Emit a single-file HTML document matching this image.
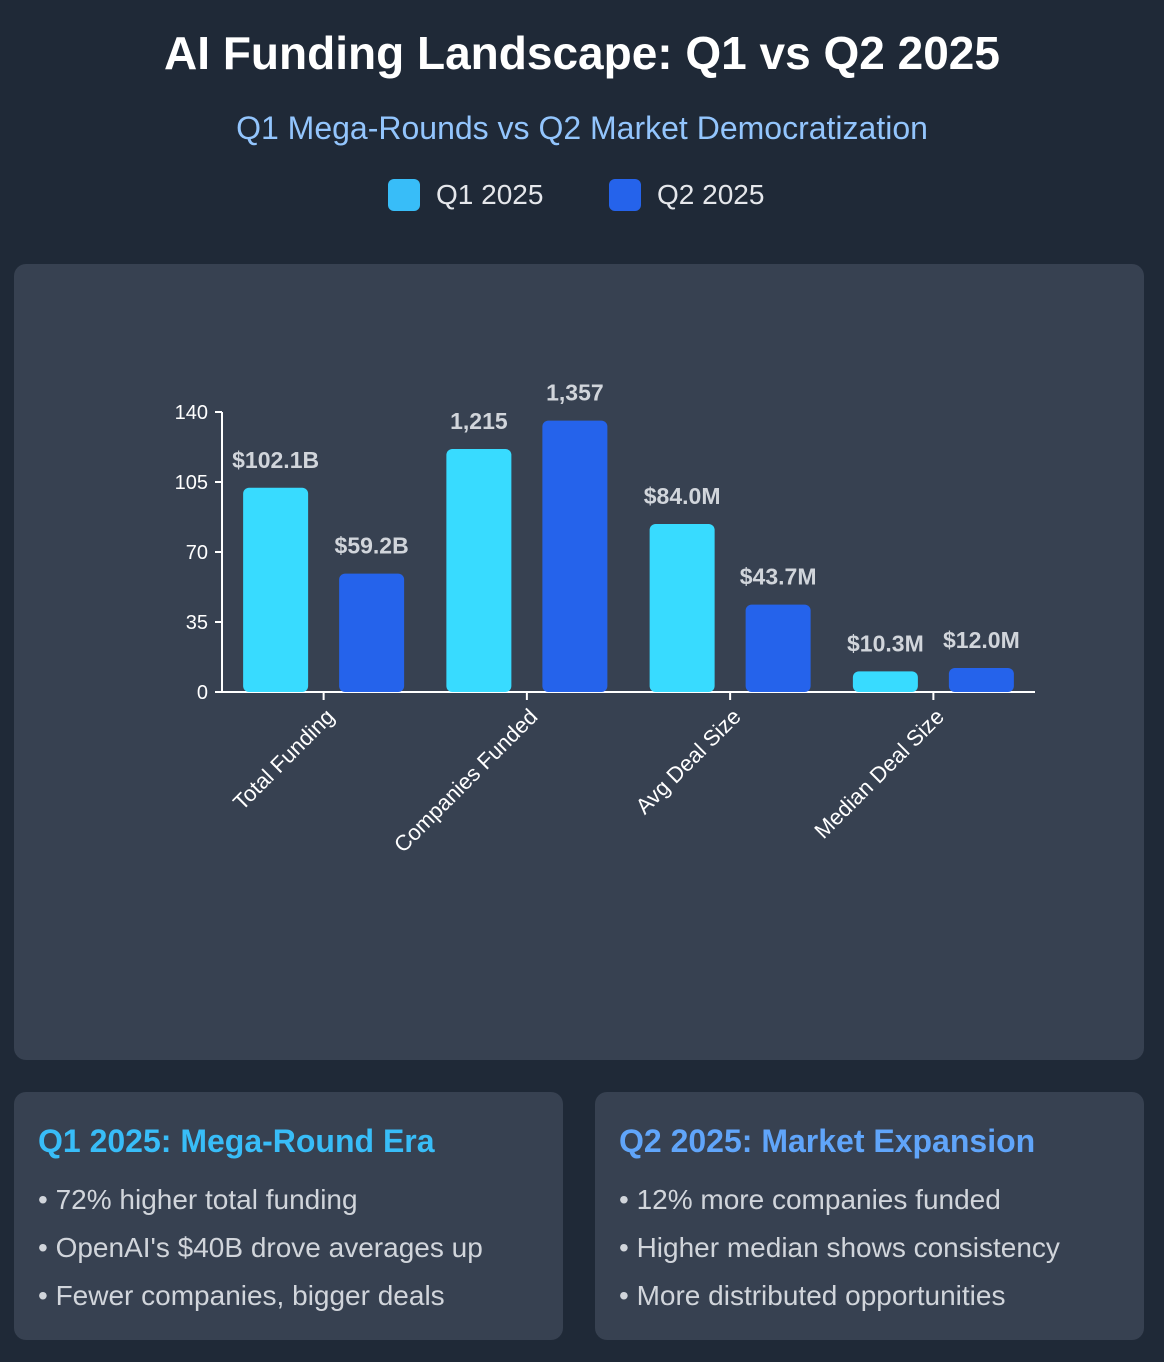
<!DOCTYPE html>
<html><head><meta charset="utf-8"><style>
body{margin:0;width:1164px;height:1362px;background:#1f2937;font-family:"Liberation Sans",sans-serif;overflow:hidden;position:relative}
h1{position:absolute;top:26px;left:0;width:1164px;text-align:center;margin:0;color:#fff;font-size:46px;font-weight:bold}
.sub{position:absolute;top:110px;left:0;width:1164px;text-align:center;color:#93c5fd;font-size:32px}
.leg{position:absolute;top:179px;display:flex;align-items:center;color:#e5e7eb;font-size:28px}
.sw{width:32px;height:32px;border-radius:6px;margin-right:16px}
.panel{position:absolute;left:14px;top:264px;width:1130px;height:796px;background:#374151;border-radius:12px}
.card{position:absolute;top:1092px;width:549px;height:248px;background:#374151;border-radius:12px}
.card h3{margin:0;position:absolute;left:24px;top:31px;font-size:32px;font-weight:bold}
.card ul{position:absolute;left:24px;top:84px;margin:0;padding:0;list-style:none;color:#d1d5db;font-size:28px;line-height:48px}
</style></head><body>
<h1>AI Funding Landscape: Q1 vs Q2 2025</h1>
<div class="sub">Q1 Mega-Rounds vs Q2 Market Democratization</div>
<div class="leg" style="left:388px"><div class="sw" style="background:#38bdf8"></div>Q1 2025</div>
<div class="leg" style="left:609px"><div class="sw" style="background:#2563eb"></div>Q2 2025</div>
<div class="panel"></div>
<svg id="chart" width="1164" height="1362" style="position:absolute;left:0;top:0"></svg>
<div class="card" style="left:14px">
<h3 style="color:#38bdf8">Q1 2025: Mega-Round Era</h3>
<ul><li>• 72% higher total funding</li><li>• OpenAI's $40B drove averages up</li><li>• Fewer companies, bigger deals</li></ul></div>
<div class="card" style="left:595px">
<h3 style="color:#60a5fa">Q2 2025: Market Expansion</h3>
<ul><li>• 12% more companies funded</li><li>• Higher median shows consistency</li><li>• More distributed opportunities</li></ul></div>
<script>
const categories=["Total Funding","Companies Funded","Avg Deal Size","Median Deal Size"];
const q1Values=[102.1,121.5,84.0,10.3];
const q2Values=[59.2,135.7,43.7,12.0];
const q1Labels=["$102.1B","1,215","$84.0M","$10.3M"];
const q2Labels=["$59.2B","1,357","$43.7M","$12.0M"];
const yTicks=[0,35,70,105,140];
const NS="http://www.w3.org/2000/svg";
const svg=document.getElementById('chart');
const x0=222,x1=1035,y0=692,y1=412,yMax=140;
const band=(x1-x0)/categories.length;
const y=v=>y0-(v/yMax)*(y0-y1);
const cx=i=>x0+band*(i+0.5);
function mk(t,a){const e=document.createElementNS(NS,t);for(const k in a)e.setAttribute(k,a[k]);svg.appendChild(e);return e;}
let ax=mk('line',{x1:x0,y1:y1,x2:x0,y2:y0,stroke:'#fff','stroke-width':2});


let bx=mk('line',{x1:x0,y1:y0,x2:x1,y2:y0,stroke:'#fff','stroke-width':2});


yTicks.forEach(v=>{
 mk('line',{x1:x0-7,x2:x0,y1:y(v),y2:y(v),stroke:'#fff','stroke-width':2});
 let t=mk('text',{x:x0-14,y:y(v)+7,'text-anchor':'end',fill:'#fff','font-size':20,'font-family':'Liberation Sans'});
 t.textContent=v;
 
 
});
const bw=65,off=48;
categories.forEach((c,i)=>{
 const c0=cx(i);
 mk('line',{x1:c0,x2:c0,y1:y0,y2:y0+8,stroke:'#fff','stroke-width':2});
 let l=mk('text',{x:0,y:0,transform:`translate(${c0+12},${y0+26}) rotate(-45)`,'text-anchor':'end',fill:'#fff','font-size':22,'font-family':'Liberation Sans'});
 l.textContent=c;
 
 
 [[q1Values,q1Labels,'#38dbff',-off,'q1'],[q2Values,q2Labels,'#2563eb',off,'q2']].forEach(([vals,labs,col,o,s])=>{
  const v=vals[i],bx=c0+o-bw/2;
  let r=mk('rect',{x:bx,y:y(v),width:bw,height:y0-y(v),rx:6,fill:col});
  
  
  let t=mk('text',{x:c0+o,y:y(v)-20,'text-anchor':'middle',fill:'#d1d5db','font-size':23,'font-weight':'bold','font-family':'Liberation Sans'});
  t.textContent=labs[i];
  
  
 });
});
</script>
</body></html>
